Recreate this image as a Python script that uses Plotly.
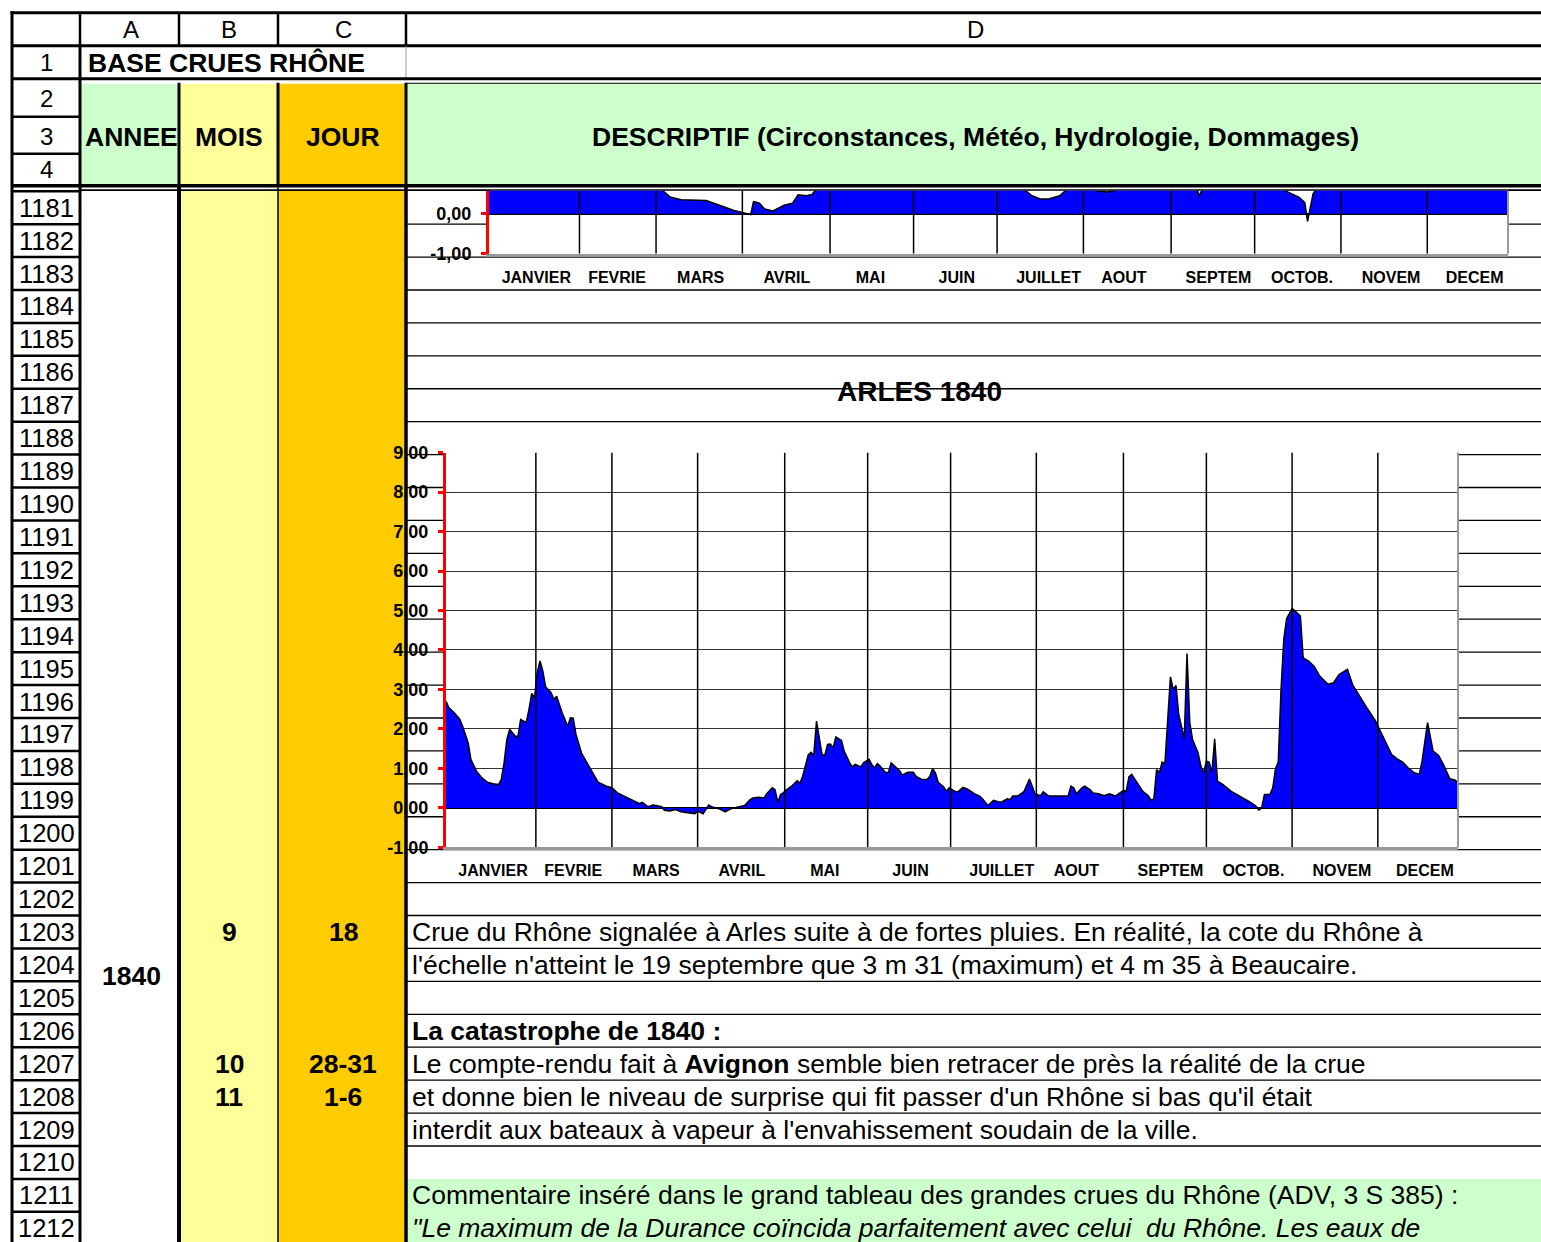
import plotly.graph_objects as go

W, H = 1541, 1242
FONT = "Liberation Sans, Arial, sans-serif"

# ---------------- data ----------------
month_labels = ["JANVIER", "FEVRIE", "MARS", "AVRIL", "MAI", "JUIN",
                "JUILLET", "AOUT", "SEPTEM", "OCTOB.", "NOVEM", "DECEM"]
label_days = [17, 46, 76, 107, 137, 168, 201, 228, 262, 292, 324, 354]
# day positions of the month separator lines drawn on the chart
separator_days = [32.5, 60, 91, 122.5, 152.5, 182.5, 213.5, 245, 275, 306, 337]

# Arles 1840 water level (m) by day of year
arles_days = [0, 1, 3, 5, 6, 8, 9, 11, 13, 15, 17, 19, 20, 21, 22, 23, 25, 26, 27, 29,
              30, 31, 32, 33, 34, 35, 36, 38, 39, 40, 42, 44, 45, 46, 47, 49, 51, 53, 55, 58,
              60, 62, 65, 67, 70, 71, 73, 75, 78, 79, 81, 83, 85, 88, 90, 91, 93, 95, 96, 99,
              101, 103, 106, 108, 110, 111, 113, 115, 116, 118, 119, 120, 121, 122, 123, 125, 127, 128, 129, 131,
              132, 133, 134, 135, 136, 137, 138, 139, 140, 141, 143, 144, 146, 147, 148, 150, 151, 153, 154, 155,
              156, 157, 159, 160, 161, 163, 164, 165, 167, 169, 170, 172, 174, 175, 176, 177, 178, 180, 181, 182,
              184, 185, 187, 189, 191, 193, 194, 196, 198, 200, 201, 203, 204, 205, 207, 209, 210, 211, 212, 213,
              215, 216, 218, 221, 223, 225, 226, 227, 228, 230, 231, 233, 234, 236, 238, 240, 242, 243, 245, 246,
              247, 248, 250, 252, 254, 255, 256, 257, 258, 259, 260, 261, 262, 263, 264, 265, 266, 267, 268, 269,
              270, 272, 273, 274, 275, 276, 277, 278, 279, 281, 284, 286, 289, 291, 293, 294, 295, 296, 298, 299,
              300, 301, 302, 303, 304, 306, 307, 309, 310, 312, 314, 316, 319, 321, 323, 326, 328, 330, 333, 336,
              339, 342, 344, 346, 348, 350, 352, 353, 355, 357, 359, 361, 363, 365, 366]
arles_levels = [2.70, 2.54, 2.41, 2.24, 2.07, 1.65, 1.23, 0.93, 0.76, 0.65, 0.61, 0.59, 0.72, 1.14, 1.73, 1.99, 1.82, 1.80, 2.24, 2.16,
                2.49, 2.90, 2.79, 3.42, 3.72, 3.47, 3.07, 2.92, 2.75, 2.83, 2.41, 2.07, 2.28, 2.27, 1.86, 1.39, 1.14, 0.89, 0.65, 0.55,
                0.51, 0.38, 0.28, 0.21, 0.11, 0.14, 0.03, 0.07, 0.03, -0.06, -0.08, -0.04, -0.10, -0.13, -0.15, -0.08, -0.15, 0.07, 0.03, -0.03,
                -0.10, -0.02, 0.03, 0.06, 0.21, 0.25, 0.27, 0.25, 0.36, 0.51, 0.46, 0.14, 0.34, 0.38, 0.45, 0.55, 0.69, 0.63, 0.80, 1.34,
                1.41, 1.33, 2.20, 1.82, 1.35, 1.33, 1.61, 1.62, 1.52, 1.80, 1.71, 1.44, 1.14, 1.04, 1.10, 1.04, 1.14, 1.23, 1.10, 1.01,
                1.12, 1.06, 0.89, 0.90, 1.14, 1.01, 0.95, 0.83, 0.90, 0.90, 0.80, 0.72, 0.72, 0.80, 0.99, 0.89, 0.65, 0.53, 0.42, 0.51,
                0.42, 0.40, 0.52, 0.46, 0.36, 0.30, 0.23, 0.06, 0.19, 0.15, 0.15, 0.23, 0.21, 0.30, 0.31, 0.41, 0.55, 0.73, 0.55, 0.36,
                0.31, 0.41, 0.30, 0.30, 0.30, 0.30, 0.55, 0.51, 0.36, 0.51, 0.55, 0.46, 0.38, 0.36, 0.31, 0.36, 0.30, 0.34, 0.44, 0.42,
                0.79, 0.85, 0.63, 0.42, 0.31, 0.19, 0.23, 0.97, 0.89, 1.16, 1.12, 2.32, 3.32, 3.00, 3.10, 2.37, 2.03, 1.75, 3.91, 2.16,
                1.73, 1.39, 1.06, 0.89, 1.18, 1.16, 0.90, 1.75, 0.68, 0.59, 0.42, 0.34, 0.23, 0.14, 0.04, -0.06, 0.00, 0.34, 0.34, 0.51,
                0.99, 1.16, 3.00, 4.27, 4.79, 5.05, 4.99, 4.86, 3.80, 3.72, 3.58, 3.34, 3.13, 3.17, 3.38, 3.51, 3.10, 2.87, 2.54, 2.22,
                1.80, 1.35, 1.24, 1.16, 1.01, 0.90, 0.85, 1.18, 2.16, 1.44, 1.33, 1.06, 0.74, 0.70, 0.63]

# previous chart (cut off at the top of the view) - only low part visible
top_days = [0, 60, 61, 62, 65, 69, 78, 81, 85, 88, 92, 94, 95, 97, 99, 102, 106, 109, 111, 114,
            116, 118, 120, 190, 192, 195, 198, 201, 205, 207, 209, 213, 219, 222, 226, 228, 236, 241, 243, 254,
            255, 257, 284, 287, 291, 293, 294, 296, 298, 300, 366]
top_levels = [1.5, 1.0, 0.75, 0.60, 0.42, 0.35, 0.33, 0.25, 0.14, 0.08, 0.01, -0.02, 0.30, 0.27, 0.12, 0.07, 0.21, 0.26, 0.47, 0.45,
              0.48, 0.65, 1.0, 1.0, 0.62, 0.45, 0.37, 0.37, 0.45, 0.58, 0.70, 0.70, 0.56, 0.54, 0.60, 0.70, 0.62, 0.60, 0.70, 0.70,
              0.45, 0.70, 0.70, 0.54, 0.41, 0.28, -0.19, 0.50, 0.70, 1.2, 1.2]

main_yticks = [-1, 0, 1, 2, 3, 4, 5, 6, 7, 8, 9]
top_yticks = [-1, 0]

row_numbers = list(range(1181, 1213))

desc_rows = {
    1203: "Crue du Rhône signalée à Arles suite à de fortes pluies. En réalité, la cote du Rhône à",
    1204: "l'échelle n'atteint le 19 septembre que 3 m 31 (maximum) et 4 m 35 à Beaucaire.",
    1206: "<b>La catastrophe de 1840 :</b>",
    1207: "Le compte-rendu fait à <b>Avignon</b> semble bien retracer de près la réalité de la crue",
    1208: "et donne bien le niveau de surprise qui fit passer d'un Rhône si bas qu'il était",
    1209: "interdit aux bateaux à vapeur à l'envahissement soudain de la ville.",
    1211: "Commentaire inséré dans le grand tableau des grandes crues du Rhône (ADV, 3 S 385) :",
    1212: "<i>\"Le maximum de la Durance coïncida parfaitement avec celui  du Rhône. Les eaux de</i>",
}
mois_rows = {1203: "9", 1207: "10", 1208: "11"}
jour_rows = {1203: "18", 1207: "28-31", 1208: "1-6"}

# ---------------- helpers ----------------
ROW0_TOP = 190.5
ROW_H = 32.94
# vertical compensation for the capture (content appears shifted/squeezed)
OFF, SC = 9.2, 0.9844


def px(x):
    return x / W


def py(y):
    return 1 - ((y - OFF) / SC) / H


def row_top(r):
    return ROW0_TOP + (r - 1181) * ROW_H


def row_mid(r):
    return row_top(r) + ROW_H / 2


shapes = []
annotations = []


def rect(x0, y0, x1, y1, fill, layer="below"):
    shapes.append(dict(type="rect", xref="paper", yref="paper",
                       x0=px(x0), x1=px(x1), y0=py(y1), y1=py(y0),
                       fillcolor=fill, line=dict(width=0), layer=layer))


def hline(y, x0, x1, w=1.3, color="black", layer="below"):
    shapes.append(dict(type="line", xref="paper", yref="paper",
                       x0=px(x0), x1=px(x1), y0=py(y), y1=py(y),
                       line=dict(color=color, width=w), layer=layer))


def vline(x, y0, y1, w=1.3, color="black", layer="below"):
    shapes.append(dict(type="line", xref="paper", yref="paper",
                       x0=px(x), x1=px(x), y0=py(y0), y1=py(y1),
                       line=dict(color=color, width=w), layer=layer))


def txt(x, y, s, size=26.5, bold=False, anchor="center"):
    annotations.append(dict(x=px(x), y=py(y), xref="paper", yref="paper",
                            text=s, showarrow=False, xanchor=anchor, yanchor="middle",
                            font=dict(family=FONT, size=size, color="black",
                                      weight="bold" if bold else "normal")))


GREEN, YELLOW, ORANGE = "#CCFFCC", "#FFFF99", "#FFCC00"
BOTTOM = 1262

# fills
rect(80, 83, 179, 184, GREEN)
rect(179, 83, 278, 184, YELLOW)
rect(278, 83, 406, 184, ORANGE)
rect(406, 83, 1541, 184, GREEN)
rect(179, 190, 278, BOTTOM, YELLOW)
rect(278, 190, 406, BOTTOM, ORANGE)
rect(406, row_top(1211), 1541, BOTTOM, GREEN)

# grid of the sheet
hline(12, 10.5, 1541, 3)
vline(12, 10.5, BOTTOM, 3)
hline(45, 12, 1541, 3)
for x in [80, 179, 278, 406]:
    vline(x, 12, 45, 2.5)
vline(80, 45, BOTTOM, 3)
vline(406, 45, 78, 1, "#999")
hline(78, 12, 1541, 3)
hline(82.5, 406, 1541, 1.2)
hline(116, 12, 80, 2.5)
hline(153, 12, 80, 2.5)
for x in [179, 278, 406]:
    vline(x, 82, 186, 3)
hline(185, 12, 1541, 3.5)
hline(189.5, 80, 1541, 1.8)
for r in range(1181, 1214):
    hline(row_top(r), 12, 80, 2.5)
for r in range(1182, 1211):
    hline(row_top(r), 406, 1541, 1.3)
vline(179, 186, BOTTOM, 4)
vline(278, 186, BOTTOM, 1.5)
vline(406, 186, BOTTOM, 3.5)

# chart plot backgrounds (white)
MAIN_L, MAIN_R, MAIN_T, MAIN_B = 446, 1458, 452, 847
TOP_L, TOP_R, TOP_T, TOP_B = 489, 1508, 190, 253
rect(MAIN_L, MAIN_T, MAIN_R, MAIN_B, "white")
rect(TOP_L, TOP_T, TOP_R, TOP_B, "white")
vline(MAIN_R, MAIN_T, MAIN_B, 2, "#999", layer="above")
vline(TOP_R, TOP_T, TOP_B, 2, "#999", layer="above")

# texts
for x, s in [(131, "A"), (229, "B"), (343, "C"), (975, "D")]:
    txt(x, 29, s, 24)
for y, s in [(62, "1"), (98, "2"), (136, "3"), (169, "4")]:
    txt(46, y, s, 24)
txt(86, 62, "BASE CRUES RHÔNE", 26.5, True, "left")
txt(131, 136, "ANNEE", 26.5, True)
txt(229, 136, "MOIS", 26.5, True)
txt(343, 136, "JOUR", 26.5, True)
txt(975, 136, "DESCRIPTIF (Circonstances, Météo, Hydrologie, Dommages)", 26.5, True)
for r in row_numbers:
    txt(46, row_mid(r), str(r), 25.5)
txt(131, 976, "1840", 26.5, True)
for r, s in mois_rows.items():
    txt(229, row_mid(r), s, 26.5, True)
for r, s in jour_rows.items():
    txt(343, row_mid(r), s, 26.5, True)
for r, s in desc_rows.items():
    txt(410, row_mid(r), s, 26.5, False, "left")
txt(920, 391, "ARLES 1840", 28, True)


# ---------------- chart ----------------
def sep_trace(ymin, ymax, xa, ya):
    xs, ys = [], []
    for b in separator_days:
        xs += [b, b, None]
        ys += [ymin, ymax, None]
    return go.Scatter(x=xs, y=ys, mode="lines", line=dict(color="black", width=1.5),
                      xaxis=xa, yaxis=ya, hoverinfo="skip")


fig = go.Figure()
fig.add_trace(go.Scatter(x=top_days, y=top_levels, mode="lines", fill="tozeroy",
                         fillcolor="#0000FF", line=dict(color="black", width=1.5),
                         xaxis="x2", yaxis="y2", hoverinfo="skip"))
fig.add_trace(sep_trace(-1, 0.575, "x2", "y2"))
fig.add_trace(go.Scatter(x=arles_days, y=arles_levels, mode="lines", fill="tozeroy",
                         fillcolor="#0000FF", line=dict(color="black", width=1.5),
                         xaxis="x", yaxis="y", hoverinfo="skip"))
fig.add_trace(sep_trace(-1, 9, "x", "y"))


def fmt(v):
    return f"{v:.2f}".replace(".", ",")


xfont = dict(family=FONT, size=16, color="black", weight="bold")
yfont = dict(family=FONT, size=18, color="black", weight="bold")

common_x = dict(tickmode="array", tickvals=label_days, ticktext=month_labels, ticks="",
                showgrid=False, zeroline=False, showline=True, linecolor="#999",
                linewidth=2.5, tickfont=xfont, ticklabelstandoff=7, fixedrange=True)
common_y = dict(tickmode="array", ticks="outside", ticklen=5, tickwidth=3, tickcolor="red",
                showline=True, linecolor="red", linewidth=3, showgrid=True,
                gridcolor="#333", gridwidth=1.3, zeroline=True, zerolinecolor="black",
                zerolinewidth=1.5, tickfont=yfont, ticklabelstandoff=6, fixedrange=True)

fig.update_layout(
    width=W, height=H, margin=dict(l=0, r=0, t=0, b=0),
    paper_bgcolor="white", plot_bgcolor="rgba(0,0,0,0)", showlegend=False,
    xaxis=dict(domain=[px(MAIN_L), px(MAIN_R)], range=[0, 366], anchor="y", **common_x),
    yaxis=dict(domain=[py(MAIN_B), py(MAIN_T)], range=[-1, 9], anchor="x",
               tickvals=main_yticks, ticktext=[fmt(v) for v in main_yticks], **common_y),
    xaxis2=dict(domain=[px(TOP_L), px(TOP_R)], range=[0, 366], anchor="y2", **common_x),
    yaxis2=dict(domain=[py(TOP_B), py(TOP_T)], range=[-1, 0.575], anchor="x2",
                tickvals=top_yticks, ticktext=[fmt(v) for v in top_yticks], **common_y),
    shapes=shapes, annotations=annotations,
)

fig.write_html(
    "out.html", config={"displayModeBar": False},
    post_script=(
        "var gd=document.getElementById('{plot_id}');"
        "gd.style.position='fixed';gd.style.top='0px';gd.style.left='0px';"
        "document.documentElement.style.margin='0px';document.body.style.margin='0px';"
        "document.documentElement.style.overflow='hidden';document.body.style.overflow='hidden';"
    ),
)
